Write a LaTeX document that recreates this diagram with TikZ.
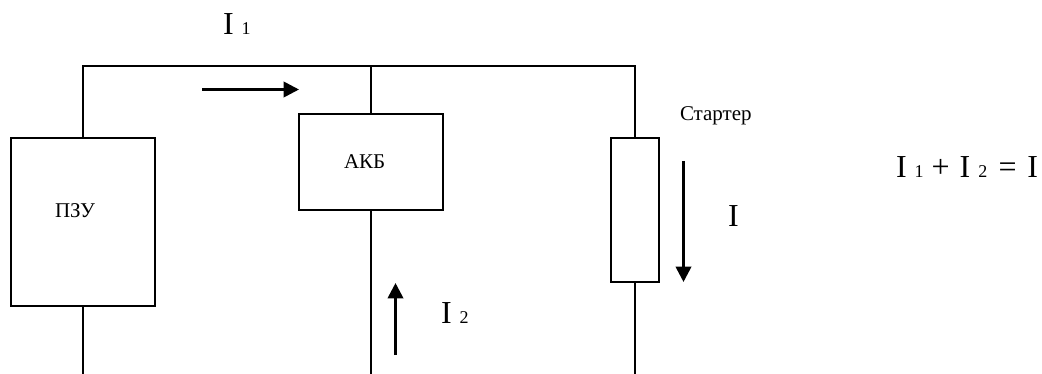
\documentclass[tikz,border=0pt]{standalone}
\usepackage{fontspec}
\setmainfont{Liberation Serif}
\usetikzlibrary{arrows.meta}
\newcommand{\subnum}[1]{{\fontsize{13.5pt}{16pt}\selectfont #1}}
\tikzset{
  unitbox/.style={draw=black,fill=white,line width=1.3pt,inner sep=0pt,outer sep=0pt},
  wire/.style={draw=black,line width=1.3pt},
  current/.style={draw=black,line width=2pt,-{Triangle[length=11.5pt,width=11.5pt]}},
  smalltext/.style={inner sep=0pt,outer sep=0pt,anchor=base west,font=\fontsize{15.75pt}{18pt}\selectfont},
  bigtext/.style={inner sep=0pt,outer sep=0pt,anchor=base west,font=\fontsize{24pt}{28pt}\selectfont}
}
\begin{document}
\begin{tikzpicture}[x=0.75pt,y=-0.75pt]
\useasboundingbox (0,0) rectangle (1042,374);
% boxes
\node[unitbox,minimum width=108pt,minimum height=126pt] (pzu) at (83,222) {};
\node[unitbox,minimum width=108pt,minimum height=72pt] (akb) at (371,162) {};
\node[unitbox,minimum width=36pt,minimum height=108pt] (st) at (635,210) {};
% free ends
\coordinate (tl) at (83,66);
\coordinate (tm) at (371,66);
\coordinate (tr) at (635,66);
\coordinate (bl) at (83,374);
\coordinate (bm) at (371,374);
\coordinate (br) at (635,374);
% wires
\draw[wire,line join=miter] (pzu.north) -- (tl) -- (tr) -- (st.north);
\draw[wire] (tm) -- (akb.north);
\draw[wire] (pzu.south) -- (bl);
\draw[wire] (akb.south) -- (bm);
\draw[wire] (st.south) -- (br);
% current arrows
\coordinate (a1s) at (202,89.5);
\coordinate (a1e) at (299,89.5);
\coordinate (a2s) at (395.5,355);
\coordinate (a2e) at (395.5,283);
\coordinate (a3s) at (683.5,161);
\coordinate (a3e) at (683.5,282);
\draw[current] (a1s) -- (a1e);
\draw[current] (a2s) -- (a2e);
\draw[current] (a3s) -- (a3e);
% labels
\node[smalltext] (tpzu) at (55,218) {ПЗУ};
\node[smalltext] (takb) at (344,169) {АКБ};
\node[smalltext] (tst) at (680,121) {Стартер};
\node[bigtext] (i1) at (223,35) {I \subnum{1}};
\node[bigtext] (i2) at (441,323) {I \subnum{2}};
\node[bigtext] (i) at (728,226) {I};
\node[bigtext] (eq) at (896,178) {I \subnum{1} + \hspace{1.5pt}I \subnum{2} \hspace{2.5pt}=\hspace{2pt} I};
\end{tikzpicture}
\end{document}
